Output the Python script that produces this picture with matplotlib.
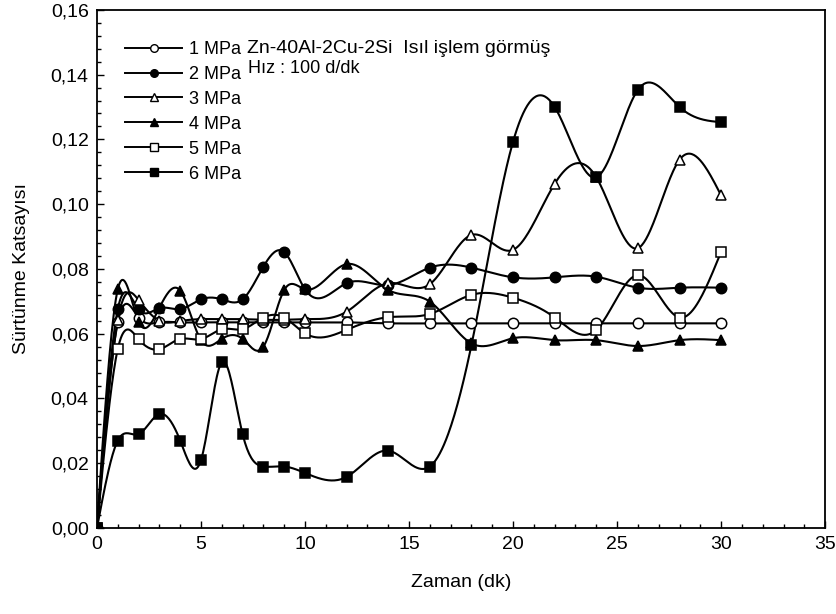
import numpy as np
import matplotlib
matplotlib.use("Agg")
import matplotlib.pyplot as plt
from matplotlib.ticker import MultipleLocator, FuncFormatter

plt.rcParams["font.family"] = ["Liberation Sans", "DejaVu Sans"]

# zaman (dk)
t = [0, 1, 2, 3, 4, 5, 6, 7, 8, 9, 10, 12, 14, 16, 18, 20, 22, 24, 26, 28, 30]

mpa1 = [0, 0.0635, 0.065, 0.0635, 0.0635, 0.0635, 0.0635, 0.0635, 0.0635, 0.0635, 0.0635,
        0.0635, 0.0632, 0.0632, 0.0632, 0.0632, 0.0632, 0.0632, 0.0632, 0.0632, 0.0632]
mpa2 = [0, 0.0676, 0.0675, 0.0679, 0.0676, 0.0706, 0.0706, 0.0706, 0.0807, 0.0852, 0.0737,
        0.0756, 0.075, 0.0804, 0.0804, 0.0774, 0.0774, 0.0776, 0.0742, 0.0742, 0.0742]
mpa3 = [0, 0.0642, 0.0704, 0.064, 0.0639, 0.0645, 0.0645, 0.0645, 0.0643, 0.0643, 0.0645,
        0.0668, 0.0756, 0.0753, 0.0905, 0.0859, 0.1063, 0.1083, 0.0864, 0.1137, 0.1027]
mpa4 = [0, 0.0737, 0.0637, 0.068, 0.0733, 0.058, 0.0584, 0.0584, 0.056, 0.0735, 0.0737,
        0.0815, 0.0735, 0.0699, 0.057, 0.0586, 0.058, 0.058, 0.0562, 0.058, 0.058]
mpa5 = [0, 0.0553, 0.0583, 0.0552, 0.0584, 0.0583, 0.0614, 0.0614, 0.065, 0.065, 0.0601,
        0.0612, 0.0651, 0.0661, 0.072, 0.0711, 0.065, 0.0612, 0.0781, 0.065, 0.0853]
mpa6 = [0, 0.027, 0.029, 0.0352, 0.027, 0.021, 0.0512, 0.029, 0.019, 0.019, 0.017,
        0.0158, 0.0239, 0.019, 0.0565, 0.1193, 0.130, 0.1083, 0.1353, 0.130, 0.1253]

labels = ["1 MPa", "2 MPa", "3 MPa", "4 MPa", "5 MPa", "6 MPa"]
markers = ["o", "o", "^", "^", "s", "s"]
faces = ["white", "black", "white", "black", "white", "black"]


def spline_curve(x, y, n=600):
    # natural cubic spline, only used to draw the smooth connecting line
    x = np.asarray(x, float)
    y = np.asarray(y, float)
    h = np.diff(x)
    m = len(x)
    A = np.zeros((m, m))
    b = np.zeros(m)
    A[0, 0] = A[-1, -1] = 1.0
    for i in range(1, m - 1):
        A[i, i - 1] = h[i - 1]
        A[i, i] = 2 * (h[i - 1] + h[i])
        A[i, i + 1] = h[i]
        b[i] = 6 * ((y[i + 1] - y[i]) / h[i] - (y[i] - y[i - 1]) / h[i - 1])
    M = np.linalg.solve(A, b)
    xs = np.linspace(x[0], x[-1], n)
    k = np.clip(np.searchsorted(x, xs) - 1, 0, m - 2)
    dx0 = xs - x[k]
    dx1 = x[k + 1] - xs
    hk = h[k]
    ys = (M[k] * dx1 ** 3 + M[k + 1] * dx0 ** 3) / (6 * hk) \
        + (y[k] / hk - M[k] * hk / 6) * dx1 + (y[k + 1] / hk - M[k + 1] * hk / 6) * dx0
    return xs, ys


fig = plt.figure(figsize=(8.36, 6.14), dpi=100)
ax = fig.add_axes([0.116, 0.140, 0.871, 0.844])

series = [mpa1, mpa2, mpa3, mpa4, mpa5, mpa6]
for vals, lab, mk, fc in zip(series, labels, markers, faces):
    xs, ys = spline_curve(t, vals)
    ax.plot(xs, ys, color="black", lw=1.5, zorder=2)
    ax.plot(t, vals, ls="none", marker=mk, ms=7.5, mfc=fc, mec="black", mew=1.1, zorder=3)
    # legend handle
    ax.plot([], [], color="black", lw=1.4, marker=mk, ms=5.5, mfc=fc, mec="black",
            mew=1.0, label=lab)

ax.set_xlim(0, 35)
ax.set_ylim(0, 0.16)
ax.xaxis.set_major_locator(MultipleLocator(5))
ax.xaxis.set_minor_locator(MultipleLocator(1))
ax.yaxis.set_major_locator(MultipleLocator(0.02))
ax.yaxis.set_minor_locator(MultipleLocator(0.004))
ax.yaxis.set_major_formatter(FuncFormatter(lambda v, p: f"{v:.2f}".replace(".", ",")))
ax.tick_params(which="both", direction="in", labelsize=14, width=1.0)
ax.tick_params(which="major", length=5, pad=6)
ax.tick_params(which="minor", length=3)
for s in ax.spines.values():
    s.set_linewidth(1.3)

ax.set_xlabel("Zaman (dk)", fontsize=14, labelpad=15)
ax.set_ylabel("Sürtünme Katsayısı", fontsize=14, labelpad=15)

ax.legend(loc="upper left", bbox_to_anchor=(0.039, 0.94), frameon=False, fontsize=13,
          handlelength=3.15, handletextpad=0.4, labelspacing=0.44, borderpad=0,
          borderaxespad=0)

ax.text(0.206, 0.925, "Zn-40Al-2Cu-2Si  Isıl işlem görmüş", transform=ax.transAxes,
        fontsize=14, va="center", ha="left")
ax.text(0.208, 0.887, "Hız : 100 d/dk", transform=ax.transAxes,
        fontsize=13, va="center", ha="left")

fig.savefig("out.png", dpi=100)
